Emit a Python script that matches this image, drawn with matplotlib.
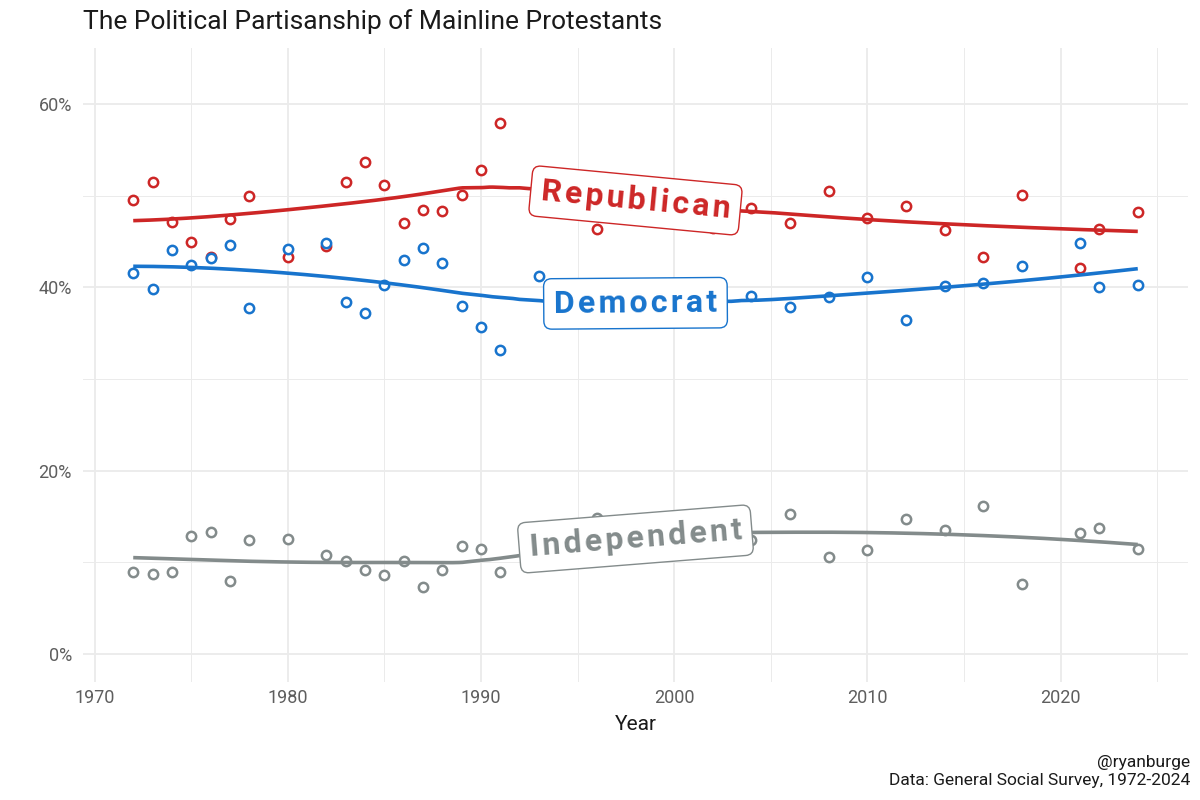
import numpy as np
import matplotlib
matplotlib.use('Agg')
import matplotlib.pyplot as plt
from matplotlib import font_manager

years = [1972, 1973, 1974, 1975, 1976, 1977, 1978, 1980, 1982, 1983, 1984, 1985,
         1986, 1987, 1988, 1989, 1990, 1991, 1993, 1994, 1996, 1998, 2000, 2002,
         2004, 2006, 2008, 2010, 2012, 2014, 2016, 2018, 2021, 2022, 2024]

republican = [49.5, 51.5, 47.1, 44.9, 43.3, 47.4, 50.0, 43.3, 44.5, 51.5, 53.7, 51.2,
              47.0, 48.4, 48.3, 50.1, 52.8, 57.9, 50.4, 49.5, 46.4, 50.0, 49.0, 46.5,
              48.7, 47.0, 50.5, 47.6, 48.9, 46.3, 43.3, 50.1, 42.1, 46.4, 48.2]

democrat = [41.6, 39.8, 44.1, 42.4, 43.2, 44.6, 37.7, 44.2, 44.8, 38.4, 37.2, 40.2,
            43.0, 44.3, 42.6, 38.0, 35.7, 33.2, 41.2, 38.5, 39.0, 38.0, 38.5, 39.5,
            39.0, 37.8, 38.9, 41.1, 36.4, 40.1, 40.5, 42.3, 44.8, 40.0, 40.3]

independent = [9.0, 8.7, 8.9, 12.9, 13.3, 8.0, 12.4, 12.6, 10.8, 10.2, 9.2, 8.6,
               10.1, 7.3, 9.2, 11.8, 11.5, 8.9, 10.5, 11.5, 14.8, 12.5, 13.0, 13.5,
               12.4, 15.3, 10.6, 11.3, 14.7, 13.5, 16.2, 7.6, 13.2, 13.7, 11.5]

series = [('Republican', republican, '#CD2626'),
          ('Democrat', democrat, '#1874CD'),
          ('Independent', independent, '#838B8B')]

names = {f.name for f in font_manager.fontManager.ttflist}
if 'Liberation Sans Narrow' in names:
    base_font = 'Liberation Sans Narrow'
    label_size = 26
else:
    base_font = 'Roboto'
    label_size = 23
plt.rcParams['font.family'] = [base_font, 'DejaVu Sans']


def loess(x, y, xs, span=0.75):
    # local quadratic fit with tricube weights, like R's loess default
    x = np.asarray(x, float)
    y = np.asarray(y, float)
    q = int(np.floor(len(x) * span))
    out = []
    for x0 in xs:
        d = np.abs(x - x0)
        h = np.sort(d)[q - 1]
        w = np.clip(1 - (d / h) ** 3, 0, None) ** 3
        X = np.column_stack([np.ones_like(x), x - x0, (x - x0) ** 2])
        sw = np.sqrt(w)
        beta = np.linalg.lstsq(X * sw[:, None], y * sw, rcond=None)[0]
        out.append(beta[0])
    return np.array(out)


fig = plt.figure(figsize=(12, 8), dpi=100)
ax = fig.add_axes([83 / 1200, 1 - 682 / 800, (1188 - 83) / 1200, (682 - 48) / 800])
ax.set_xlim(1969.4, 2026.6)
ax.set_ylim(-3.05, 66.1)

ax.set_xticks(range(1970, 2021, 10))
ax.set_xticks(range(1975, 2026, 10), minor=True)
ax.set_yticks([0, 20, 40, 60])
ax.set_yticks([10, 30, 50], minor=True)
ax.set_yticklabels(['0%', '20%', '40%', '60%'])
ax.grid(which='major', color='#EBEBEB', lw=1.3)
ax.grid(which='minor', color='#EBEBEB', lw=0.7)
ax.set_axisbelow(True)
for s in ax.spines.values():
    s.set_visible(False)
ax.tick_params(which='both', length=0, labelsize=13, labelcolor='#5E5E5E')
ax.tick_params(axis='y', pad=8)
ax.tick_params(axis='x', pad=5)

xs = np.linspace(1972, 2024, 300)
label_x = 1998
for name, vals, col in series:
    ax.scatter(years, vals, s=45, facecolors='white', edgecolors=col, linewidths=1.8, zorder=3)
    fit = loess(years, vals, xs)
    ax.plot(xs, fit, color=col, lw=2.6, zorder=4, solid_capstyle='butt')
    yl = loess(years, vals, [label_x])[0]
    p1 = ax.transData.transform((label_x - 1, loess(years, vals, [label_x - 1])[0]))
    p2 = ax.transData.transform((label_x + 1, loess(years, vals, [label_x + 1])[0]))
    ang = np.degrees(np.arctan2(p2[1] - p1[1], p2[0] - p1[0]))
    ax.text(label_x, yl, '\u200a'.join(name), color=col, fontsize=label_size, fontweight='bold',
            ha='center', va='center', rotation=ang, rotation_mode='anchor', zorder=5,
            bbox=dict(boxstyle='round,pad=0.32,rounding_size=0.25', fc='white', ec=col, lw=1.0))

fig.text(83 / 1200, 1 - 22 / 800, 'The Political Partisanship of Mainline Protestants',
         fontsize=19, color='#1A1A1A', ha='left', va='center')
fig.text(0.53, 1 - 724 / 800, 'Year', fontsize=15, color='#1A1A1A',
         ha='center', va='center')
fig.text(1190 / 1200, 1 - 762 / 800, '@ryanburge', fontsize=12.5,
         color='#1A1A1A', ha='right', va='center')
fig.text(1190 / 1200, 1 - 781 / 800, 'Data: General Social Survey, 1972-2024', fontsize=12.5,
         color='#1A1A1A', ha='right', va='center')

plt.savefig('out.png', dpi=100, facecolor='white')
